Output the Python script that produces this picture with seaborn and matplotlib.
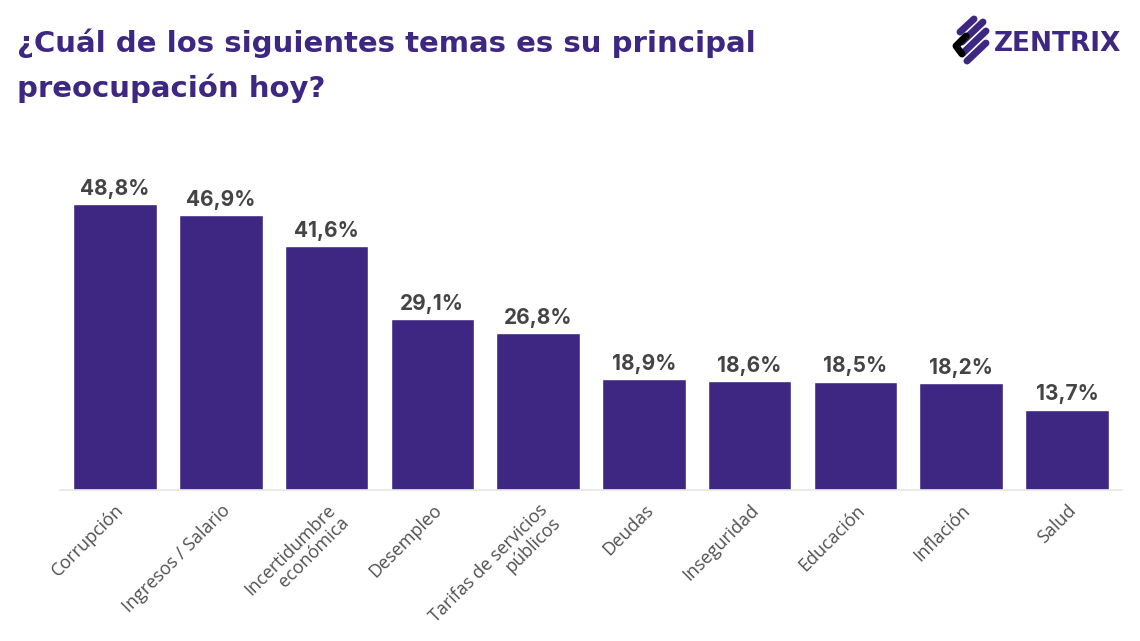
import matplotlib
matplotlib.use("Agg")
import matplotlib.pyplot as plt
from matplotlib.lines import Line2D
import seaborn as sns
import pandas as pd

temas = ["Corrupción", "Ingresos / Salario", "Incertidumbre\neconómica", "Desempleo",
         "Tarifas de servicios\npúblicos", "Deudas", "Inseguridad", "Educación",
         "Inflación", "Salud"]
valores = [48.8, 46.9, 41.6, 29.1, 26.8, 18.9, 18.6, 18.5, 18.2, 13.7]
etiquetas = ["48,8%", "46,9%", "41,6%", "29,1%", "26,8%", "18,9%", "18,6%",
             "18,5%", "18,2%", "13,7%"]

morado = "#3e2783"
df = pd.DataFrame({"tema": temas, "valor": valores})

sns.set_style("white")
plt.rcParams["font.family"] = ["Open Sans", "DejaVu Sans"]

fig = plt.figure(figsize=(11.4, 6.41), dpi=100)
ax = fig.add_axes([0.0526, 0.2356, 0.9316, 0.512])

sns.barplot(data=df, x="tema", y="valor", color=morado, saturation=1,
            width=0.79, ax=ax)

for i, (v, t) in enumerate(zip(valores, etiquetas)):
    ax.text(i, v + 0.9, t, ha="center", va="bottom", fontsize=15,
            fontweight="bold", color="#444444", family=["Inter", "DejaVu Sans"])

ax.set_xlim(-0.52, 9.52)
ax.set_ylim(0, 56)
ax.set_xlabel("")
ax.set_ylabel("")
ax.set_yticks([])
for s in ["top", "right", "left"]:
    ax.spines[s].set_visible(False)
ax.spines["bottom"].set_color("#e6e6e6")
ax.spines["bottom"].set_linewidth(1.2)
ax.tick_params(axis="x", length=5, color="#e6e6e6", pad=3)
plt.setp(ax.get_xticklabels(), rotation=45, ha="right", rotation_mode="anchor",
         fontsize=13, color="#505050", linespacing=1.0)

fig.text(0.015, 0.955, "¿Cuál de los siguientes temas es su principal\npreocupación hoy?",
         ha="left", va="top", fontsize=21, fontweight="bold", color=morado,
         family=["DejaVu Sans"], linespacing=1.65)

# logo
W, H = 1140, 641
def px(x, y):
    return (x / W, 1 - y / H)

trazos = [
    ((960, 32), (974, 19), morado),
    ((962, 42), (983, 22), morado),
    ((963, 53), (986, 31), morado),
    ((967, 61), (986, 43), morado),
]
for a, b, c in trazos:
    fig.add_artist(Line2D([px(*a)[0], px(*b)[0]], [px(*a)[1], px(*b)[1]],
                          transform=fig.transFigure, color=c, linewidth=5,
                          solid_capstyle="round"))
fig.add_artist(Line2D([px(966, 36)[0], px(956, 46)[0], px(962, 54)[0]],
                      [px(966, 36)[1], px(956, 46)[1], px(962, 54)[1]],
                      transform=fig.transFigure, color="black", linewidth=5,
                      solid_capstyle="round", solid_joinstyle="round"))
fig.text(px(994, 0)[0], 1 - 44 / H, "ZENTRIX", ha="left", va="center", fontsize=19,
         fontweight="bold", color=morado, family=["DejaVu Sans"])

fig.savefig("out.png", dpi=100, facecolor="white")
